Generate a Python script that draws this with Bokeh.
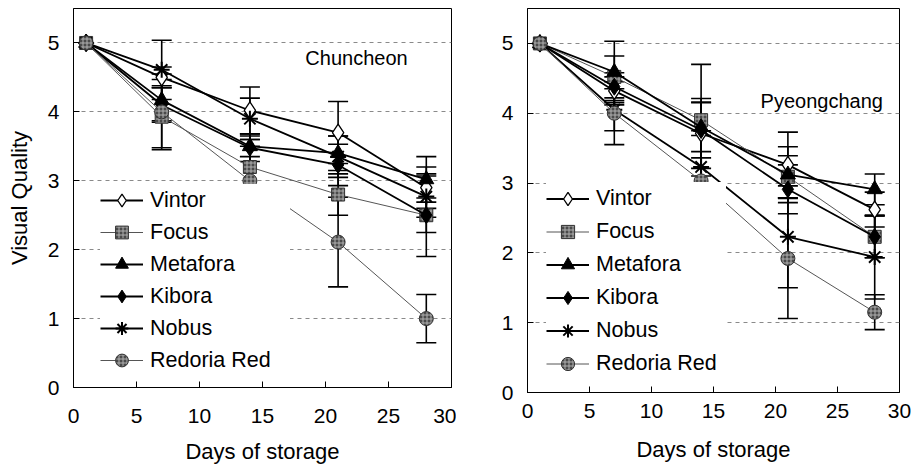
from bokeh.plotting import figure
from bokeh.layouts import row, column
from bokeh.models import Whisker, TeeHead, ColumnDataSource, Label, Range1d, FixedTicker
from bokeh.embed import file_html
from bokeh.resources import INLINE

# ---------------- data ----------------
days = [1, 7, 14, 21, 28]
cultivars = ["Vintor", "Focus", "Metafora", "Kibora", "Nobus", "Redoria Red"]

# Chuncheon (mean visual quality)
chun_vintor = [5.0, 4.50, 4.02, 3.70, 2.90]
chun_focus = [5.0, 3.93, 3.20, 2.80, 2.50]
chun_metafora = [5.0, 4.17, 3.50, 3.40, 3.02]
chun_kibora = [5.0, 4.10, 3.48, 3.23, 2.50]
chun_nobus = [5.0, 4.61, 3.90, 3.35, 2.77]
chun_redoria = [5.0, 4.00, 3.00, 2.11, 1.00]
# Chuncheon error (SD)
chun_vintor_err = [0, 0.15, 0.34, 0.45, 0.30]
chun_focus_err = [0, 0.45, 0.30, 0.30, 0.60]
chun_metafora_err = [0, 0.30, 0.15, 0.25, 0.33]
chun_kibora_err = [0, 0.25, 0.20, 0.30, 0.25]
chun_nobus_err = [0, 0.43, 0.30, 0.30, 0.30]
chun_redoria_err = [0, 0.55, 0.60, 0.65, 0.35]

# Pyeongchang
pyeo_vintor = [5.0, 4.32, 3.71, 3.26, 2.62]
pyeo_focus = [5.0, 4.52, 3.90, 3.09, 2.23]
pyeo_metafora = [5.0, 4.59, 3.80, 3.12, 2.91]
pyeo_kibora = [5.0, 4.38, 3.76, 2.91, 2.23]
pyeo_nobus = [5.0, 4.05, 3.23, 2.23, 1.94]
pyeo_redoria = [5.0, 4.00, 3.03, 1.92, 1.15]
pyeo_vintor_err = [0, 0.20, 0.50, 0.47, 0.25]
pyeo_focus_err = [0, 0.30, 0.80, 0.30, 0.30]
pyeo_metafora_err = [0, 0.44, 0.35, 0.40, 0.22]
pyeo_kibora_err = [0, 0.20, 0.40, 0.35, 0.30]
pyeo_nobus_err = [0, 0.30, 0.45, 0.73, 0.60]
pyeo_redoria_err = [0, 0.45, 0.72, 0.86, 0.25]

x_ticks = [0, 5, 10, 15, 20, 25, 30]
y_ticks = [0, 1, 2, 3, 4, 5]

FONT = "Liberation Sans"

styles = {
    "Vintor": dict(marker="diamond", size=17, fill_color="white", line_color="black", lw=1.8, lc="black", mlw=1.3),
    "Focus": dict(marker="square", size=13, fill_color="#4a4a4a", line_color="#333333", lw=1.0, lc="#555555", mlw=1, hatch=True),
    "Metafora": dict(marker="triangle", size=15, fill_color="black", line_color="black", lw=1.8, lc="black", mlw=1),
    "Kibora": dict(marker="diamond", size=17, fill_color="black", line_color="black", lw=1.8, lc="black", mlw=1),
    "Nobus": dict(marker="asterisk", size=16, fill_color="black", line_color="black", lw=1.8, lc="black", mlw=2),
    "Redoria Red": dict(marker="circle", size=14, fill_color="#4a4a4a", line_color="#333333", lw=1.0, lc="#555555", mlw=1, hatch=True),
}


def make_panel(series, errs, frame_h, left_border, frame_w, frame_label, label_xy,
               legend_loc, legend_item_h, legend_label_width, show_ylabel, tick_standoff,
               title_standoff):
    p = figure(frame_width=frame_w, frame_height=frame_h, output_backend="svg",
               toolbar_location=None,
               x_range=Range1d(0, 30), y_range=Range1d(0, 5.5),
               min_border_left=left_border, min_border_right=456 - left_border - frame_w,
               min_border_top=8, min_border_bottom=470 - 8 - frame_h)
    p.outline_line_color = "black"
    p.outline_line_width = 1
    p.background_fill_color = "white"
    p.border_fill_color = "white"
    p.xgrid.grid_line_color = None
    p.ygrid.grid_line_color = "#8a8a8a"
    p.ygrid.grid_line_dash = "4 4"
    p.ygrid.grid_line_width = 1
    p.ygrid.ticker = FixedTicker(ticks=[1, 2, 3, 4, 5])

    for ax in (p.xaxis[0], p.yaxis[0]):
        ax.axis_line_color = "black"
        ax.major_tick_line_color = "black"
        ax.major_tick_out = 0
        ax.major_tick_in = 6
        ax.minor_tick_line_color = None
        ax.major_label_text_font = FONT
        ax.major_label_text_font_size = "21px"
        ax.major_label_text_color = "black"
        ax.axis_label_text_font = FONT
        ax.axis_label_text_font_size = "22px"
        ax.axis_label_text_font_style = "normal"
        ax.axis_label_text_color = "black"
    p.xaxis.ticker = FixedTicker(ticks=x_ticks)
    p.yaxis.ticker = FixedTicker(ticks=y_ticks)
    p.xaxis.axis_label = "Days of storage"
    p.xaxis.major_label_standoff = tick_standoff
    p.xaxis.axis_label_standoff = title_standoff
    p.yaxis.major_label_standoff = 14
    if show_ylabel:
        p.yaxis.axis_label = "Visual Quality"
        p.yaxis.axis_label_standoff = 13

    for name, vals, err in zip(cultivars, series, errs):
        st = styles[name]
        p.line(days, vals, line_color=st["lc"], line_width=st["lw"], legend_label=name)
        kw = dict(marker=st["marker"], size=st["size"], fill_color=st["fill_color"],
                  line_color=st["line_color"], line_width=st["mlw"], legend_label=name)
        if st.get("hatch"):
            kw.update(hatch_pattern="+", hatch_color="#b0b0b0", hatch_scale=4, hatch_weight=1)
        p.scatter(days, vals, **kw)
        src = ColumnDataSource(dict(
            x=days[1:],
            upper=[v + e for v, e in zip(vals[1:], err[1:])],
            lower=[v - e for v, e in zip(vals[1:], err[1:])],
        ))
        w = Whisker(source=src, base="x", upper="upper", lower="lower",
                    line_color="black", line_width=1.6,
                    upper_head=TeeHead(size=20, line_color="black", line_width=1.6),
                    lower_head=TeeHead(size=20, line_color="black", line_width=1.6))
        p.add_layout(w)

    lg = p.legend[0]
    lg.location = legend_loc
    lg.background_fill_color = "white"
    lg.background_fill_alpha = 1
    lg.border_line_color = None
    lg.padding = 0
    lg.margin = 0
    lg.spacing = 0
    lg.glyph_width = 43
    lg.glyph_height = legend_item_h
    lg.label_height = 20
    lg.label_width = legend_label_width
    lg.label_standoff = 7
    lg.label_text_font = FONT
    lg.label_text_font_size = "21.5px"
    lg.label_text_color = "black"

    p.add_layout(Label(x=label_xy[0], y=label_xy[1], text=frame_label, text_font=FONT,
                       text_font_size="20px", text_color="black", text_baseline="middle"))
    return p


p1 = make_panel(
    [chun_vintor, chun_focus, chun_metafora, chun_kibora, chun_nobus, chun_redoria],
    [chun_vintor_err, chun_focus_err, chun_metafora_err, chun_kibora_err, chun_nobus_err, chun_redoria_err],
    frame_h=379, left_border=73, frame_w=378,
    frame_label="Chuncheon", label_xy=(18.4, 4.78),
    legend_loc=(27, 11), legend_item_h=32, legend_label_width=140, show_ylabel=True,
    tick_standoff=21, title_standoff=13)

p2 = make_panel(
    [pyeo_vintor, pyeo_focus, pyeo_metafora, pyeo_kibora, pyeo_nobus, pyeo_redoria],
    [pyeo_vintor_err, pyeo_focus_err, pyeo_metafora_err, pyeo_kibora_err, pyeo_nobus_err, pyeo_redoria_err],
    frame_h=384, left_border=71, frame_w=372,
    frame_label="Pyeongchang", label_xy=(18.8, 4.18),
    legend_loc=(19, 12), legend_item_h=33, legend_label_width=130, show_ylabel=False,
    tick_standoff=11, title_standoff=16)

layout = row(column(p1), column(p2), spacing=0)
open("out.html", "w").write(file_html(layout, INLINE))
